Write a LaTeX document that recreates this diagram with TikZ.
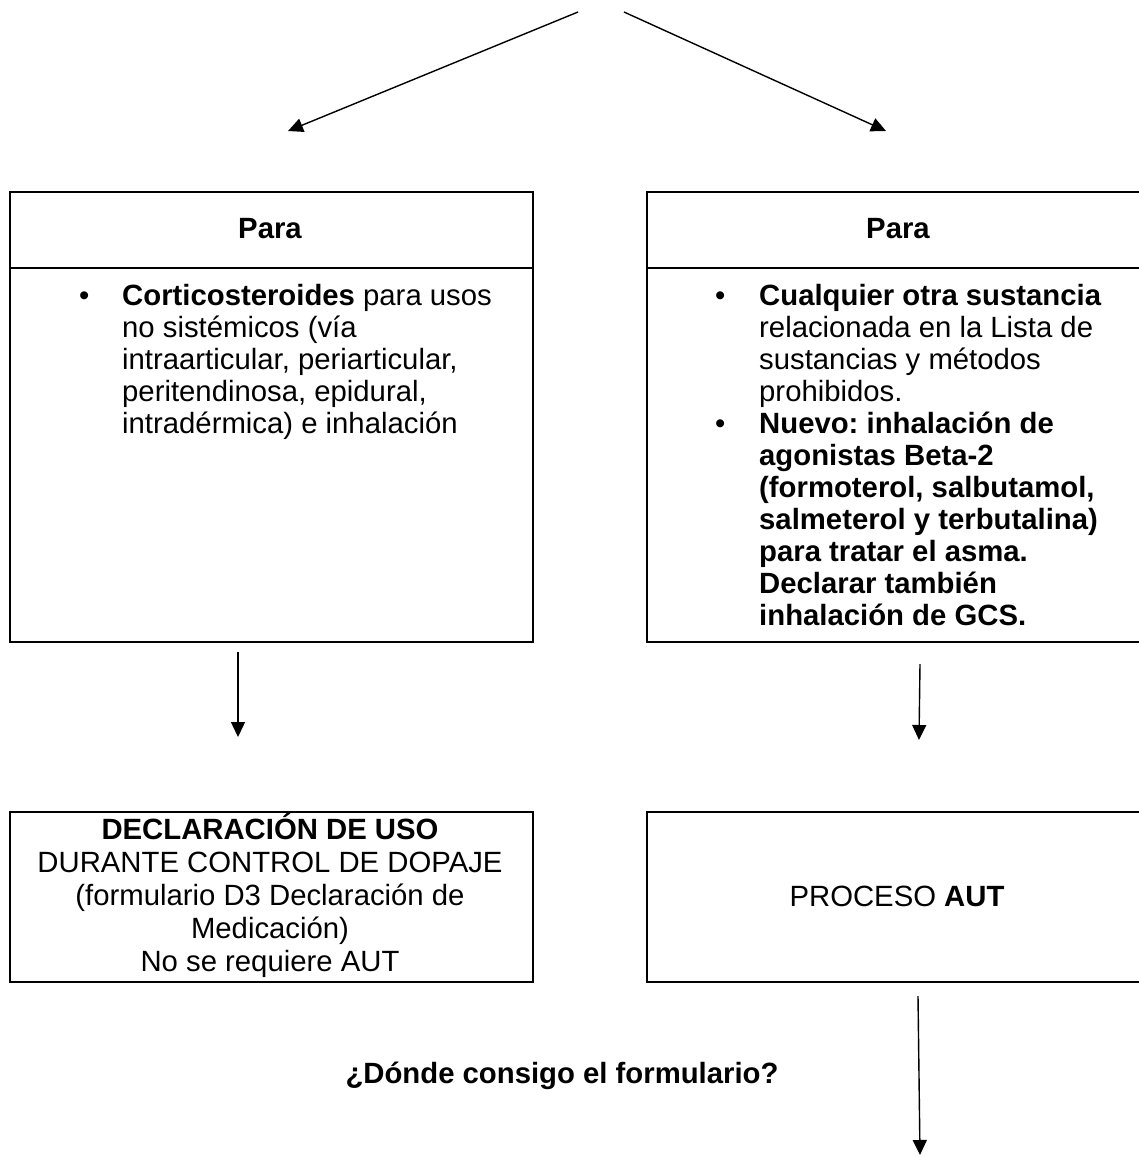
\documentclass[tikz,border=0pt]{standalone}
\usepackage{fontspec}
\setmainfont{Liberation Sans}
\usetikzlibrary{arrows.meta}
\frenchspacing
\begin{document}
\begin{tikzpicture}[x=1pt,y=-1pt,
  boxline/.style={draw=black,line width=2pt},
  boxnode/.style={boxline,anchor=north west,inner sep=0pt,fill=none},
  conn/.style={line width=1.4pt,-{Triangle[length=15pt,width=14pt]}},
  txt/.style={inner sep=0pt,font=\fontsize{29.3}{32}\selectfont},
  txtb/.style={inner sep=0pt,font=\fontsize{29.3}{33}\selectfont},
  txtbf/.style={inner sep=0pt,font={\fontsize{29.3}{32}\selectfont\bfseries}},
]
\useasboundingbox (0,0) rectangle (1139,1157);
\clip (0,0) rectangle (1139,1157);

% top boxes
\node[boxnode,minimum width=523pt,minimum height=450pt] (boxL) at (9,191) {};
\node[boxnode,minimum width=520pt,minimum height=450pt] (boxR) at (646,191) {};
\draw[boxline] (9,268) -- (532,268);
\draw[boxline] (646,268) -- (1166,268);

\node[txtbf] (paraL) at (270,229) {Para};
\node[txtbf] (paraR) at (898,229) {Para};

\node[txt,anchor=base west] (bulL) at (79,305) {•};
\node[txt,anchor=base west] (listL) at (122,305) {\begin{tabular}[t]{@{}l@{}}\textbf{Corticosteroides} para usos\\ no sistémicos (vía\\ intraarticular, periarticular,\\ peritendinosa, epidural,\\ intradérmica) e inhalación\end{tabular}};

\node[txt,anchor=base west] (bulR1) at (715,305) {•};
\node[txt,anchor=base west] (listR1) at (759,305) {\begin{tabular}[t]{@{}l@{}}\textbf{Cualquier otra sustancia}\\ relacionada en la Lista de\\ sustancias y métodos\\ prohibidos.\end{tabular}};
\node[txt,anchor=base west] (bulR2) at (715,433) {•};
\node[txt,anchor=base west] (listR2) at (759,433) {\bfseries\begin{tabular}[t]{@{}l@{}}Nuevo: inhalación de\\ agonistas Beta-2\\ (formoterol, salbutamol,\\ salmeterol y terbutalina)\\ para tratar el asma.\\ Declarar también\\ inhalación de GCS.\end{tabular}};

% bottom boxes
\node[boxnode,minimum width=523pt,minimum height=170pt] (declBox) at (9,811) {};
\node[boxnode,minimum width=520pt,minimum height=170pt] (autBox) at (646,811) {};

\node[txtb,anchor=base] (decl) at (270,839) {\begin{tabular}[t]{@{}c@{}}\textbf{DECLARACIÓN DE USO}\\ DURANTE CONTROL DE DOPAJE\\ (formulario D3 Declaración de\\ Medicación)\\ No se requiere AUT\end{tabular}};
\node[txt] (aut) at (897,896) {PROCESO \textbf{AUT}};

\node[txtbf] (q) at (562,1076) {¿Dónde consigo el formulario?};

% connectors
\coordinate (tLs) at (578,12);
\coordinate (tLe) at (288,131);
\coordinate (tRs) at (624,12);
\coordinate (tRe) at (886,131);
\coordinate (dLs) at (238,652);
\coordinate (dLe) at (238,737);
\coordinate (dRs) at (920,664);
\coordinate (dRe) at (919,740);
\coordinate (eRs) at (918,996);
\coordinate (eRe) at (920,1155);

\draw[conn] (tLs) -- (tLe);
\draw[conn] (tRs) -- (tRe);
\draw[conn] (dLs) -- (dLe);
\draw[conn] (dRs) -- (dRe);
\draw[conn] (eRs) -- (eRe);
\end{tikzpicture}
\end{document}
